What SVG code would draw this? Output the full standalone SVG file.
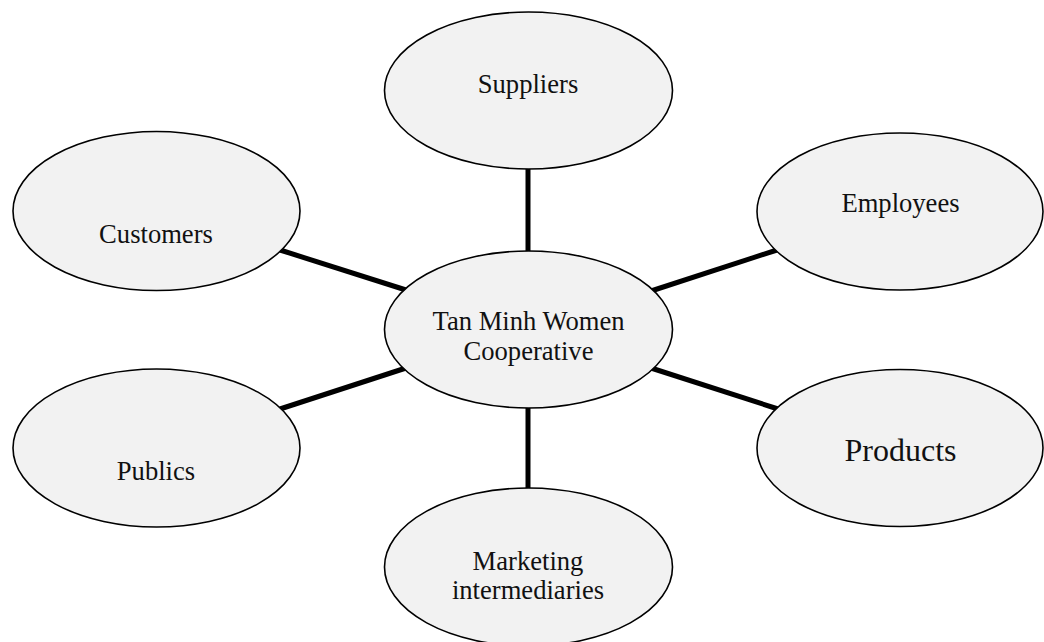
<svg xmlns="http://www.w3.org/2000/svg" width="1044" height="642" viewBox="0 0 1044 642">
<style>
.node ellipse{fill:#f2f2f2;stroke:#000;stroke-width:1.6}
.node text{font-family:"Liberation Serif","Times New Roman",serif;font-size:26.6px;fill:#111;text-anchor:middle}
#connectors line{stroke:#000;stroke-width:5;stroke-linecap:butt}
</style>
<rect width="1044" height="642" fill="#fff"/>
<g id="connectors">
<line x1="528" y1="166" x2="528" y2="254"/>
<line x1="280" y1="250" x2="406" y2="290"/>
<line x1="651" y1="291" x2="777" y2="250"/>
<line x1="280" y1="409" x2="406" y2="368"/>
<line x1="651" y1="368" x2="778" y2="409"/>
<line x1="528" y1="404" x2="528" y2="491"/>
</g>
<g id="suppliers" class="node">
<ellipse cx="528.5" cy="90.5" rx="144" ry="78.5"/>
<text x="528" y="93">Suppliers</text>
</g>
<g id="customers" class="node">
<ellipse cx="156.5" cy="211" rx="143.5" ry="79.5"/>
<text x="156" y="243">Customers</text>
</g>
<g id="employees" class="node">
<ellipse cx="900" cy="211.5" rx="143" ry="78.5"/>
<text x="900.5" y="212">Employees</text>
</g>
<g id="center" class="node">
<ellipse cx="528.5" cy="329.5" rx="144" ry="78.5"/>
<text x="528.5" y="330">Tan Minh Women</text>
<text x="528.5" y="360">Cooperative</text>
</g>
<g id="publics" class="node">
<ellipse cx="156.5" cy="448" rx="143.5" ry="79"/>
<text x="156" y="480">Publics</text>
</g>
<g id="products" class="node">
<ellipse cx="900" cy="448" rx="143" ry="78.5"/>
<text x="900.5" y="461" style="font-size:32px">Products</text>
</g>
<g id="marketing" class="node">
<ellipse cx="528.5" cy="567" rx="144" ry="79"/>
<text x="528" y="570">Marketing</text>
<text x="528" y="598.5">intermediaries</text>
</g>
</svg>
